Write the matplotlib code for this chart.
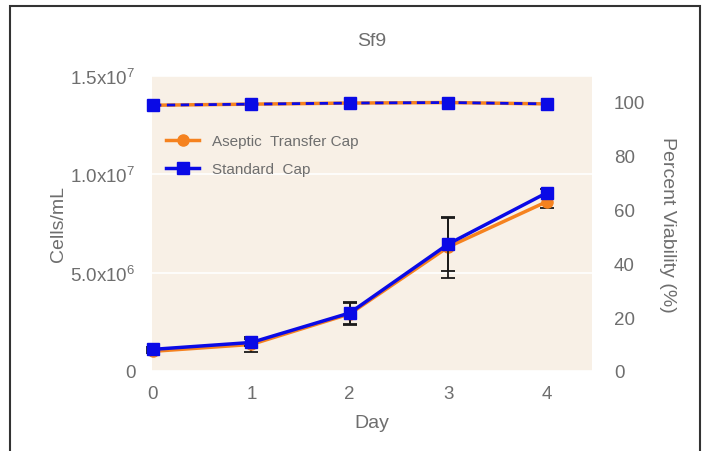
import matplotlib.pyplot as plt
import matplotlib.ticker as mticker
from matplotlib.patches import Rectangle

plt.rcParams["font.family"] = ["Liberation Sans", "DejaVu Sans"]
plt.rcParams["mathtext.default"] = "regular"

days = [0, 1, 2, 3, 4]

# cell density (cells/mL) with error bars
aseptic_cells = [1.0e6, 1.35e6, 2.9e6, 6.3e6, 8.6e6]
aseptic_err = [0.1e6, 0.38e6, 0.55e6, 1.55e6, 0.3e6]
standard_cells = [1.1e6, 1.45e6, 2.95e6, 6.45e6, 9.05e6]
standard_err = [0.1e6, 0.2e6, 0.55e6, 1.35e6, 0.2e6]

# percent viability
aseptic_via = [98.6, 99.0, 99.4, 99.6, 99.1]
standard_via = [98.6, 99.0, 99.4, 99.6, 99.1]

orange = "#f5821f"
blue = "#0a0ae6"
grey = "#6e6e6e"


def sci_fmt(v, pos):
    if v == 0:
        return "0"
    exp = len(str(int(v))) - 1
    return "%.1fx10$^{%d}$" % (v / 10 ** exp, exp)


fig = plt.figure(figsize=(7.02, 4.52), dpi=100)
ax = fig.add_axes([0.2165, 0.177, 0.6265, 0.653])
ax2 = ax.twinx()

ax.set_facecolor("#f8f0e6")
ax.set_zorder(1)
ax2.set_zorder(2)

# growth curves
ax.errorbar(days, aseptic_cells, yerr=aseptic_err, color=orange, ecolor="#1a1a1a",
            elinewidth=1.3, capsize=5, capthick=1.3, lw=2.5, marker="o", ms=8,
            clip_on=False, zorder=3)
ax.errorbar(days, standard_cells, yerr=standard_err, color=blue, ecolor="#1a1a1a",
            elinewidth=1.3, capsize=5, capthick=1.3, lw=2.5, marker="s", ms=8,
            clip_on=False, zorder=4)

# viability
ax2.plot(days, aseptic_via, color=orange, lw=2.5, marker="o", ms=8, clip_on=False)
ax2.plot(days, standard_via, color=blue, lw=2.0, ls=(0, (3, 2)), marker="s", ms=9,
         clip_on=False)

ax.set_xlim(-0.01, 4.46)
ax.set_ylim(0, 1.5e7)
ax2.set_ylim(0, 109.5)
ax.set_xticks(days)
ax.set_yticks([0, 5e6, 1e7, 1.5e7])
ax.yaxis.set_major_formatter(mticker.FuncFormatter(sci_fmt))
ax2.set_yticks([0, 20, 40, 60, 80, 100])

for a in (ax, ax2):
    for s in a.spines.values():
        s.set_visible(False)
    a.tick_params(length=0, labelsize=13.5, labelcolor=grey)
ax.tick_params(axis="y", pad=12)
ax.tick_params(axis="x", pad=10)
ax2.tick_params(axis="y", pad=16)

ax.yaxis.grid(True, color="white", lw=1.2)
ax.set_axisbelow(True)

ax.set_xlabel("Day", fontsize=14, color=grey, labelpad=9)
ax.set_ylabel("Cells/mL", fontsize=14, color=grey, labelpad=2)
ax2.set_ylabel("Percent Viability (%)", fontsize=14, color=grey, rotation=270,
               labelpad=22)
ax.set_title("Sf9", fontsize=14, color=grey, pad=22)

h1, = ax2.plot([], [], color=orange, lw=2.5, marker="o", ms=8)
h2, = ax2.plot([], [], color=blue, lw=2.5, marker="s", ms=8)
ax2.legend([h1, h2], ["Aseptic  Transfer Cap", "Standard  Cap"], frameon=False,
           loc="upper left", bbox_to_anchor=(0.0, 0.85), fontsize=11,
           labelcolor=grey, handlelength=2.2, labelspacing=0.95)

# outer frame
fig.patches.append(Rectangle((10 / 702, -0.05), 690 / 702, 1.05 - 7 / 452,
                             transform=fig.transFigure, fill=False,
                             edgecolor="#333333", lw=1.5))

fig.savefig("out.png", dpi=100)
